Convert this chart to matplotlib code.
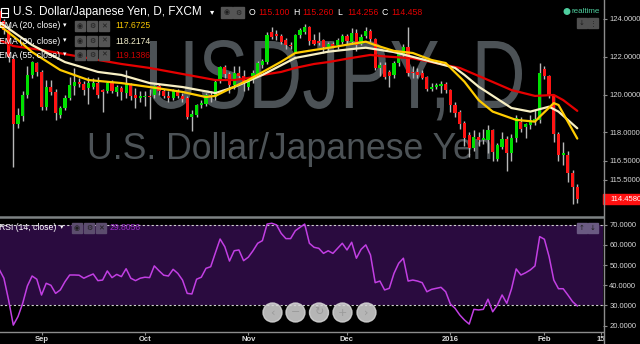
import matplotlib
matplotlib.use("Agg")
import matplotlib.pyplot as plt
import matplotlib.transforms as mtransforms
from matplotlib.patches import Rectangle, Ellipse, PathPatch
from matplotlib.lines import Line2D
from matplotlib.textpath import TextPath
from matplotlib.font_manager import FontProperties
import pandas as pd

plt.rcParams['font.family'] = ['Liberation Sans', 'DejaVu Sans']

# ---------------- data ----------------
holidays = ['2015-12-25', '2016-01-01']
dates = [d for d in pd.bdate_range('2015-08-19', '2016-02-10')
         if d.strftime('%Y-%m-%d') not in holidays]

opens = [124.4, 123.9, 123.4, 121.9, 118.45, 118.85, 119.98, 121.04, 121.65, 121.2,
         119.36, 120.42, 120.12, 118.92, 119.28, 119.84, 120.47, 120.65, 120.55, 120.33,
         120.4, 120.6, 120.25, 120.2, 120.6, 120.15, 120.33, 120.1, 120.5, 119.98,
         119.8, 119.88, 119.95, 119.98, 120.45, 120.2, 119.95, 119.82, 120.15, 119.95,
         119.8, 118.83, 118.92, 119.45, 119.49, 120.0, 119.85, 120.77, 121.48, 121.1,
         120.5, 121.13, 121.0, 120.42, 120.77, 121.07, 121.57, 121.74, 123.3, 123.2,
         123.12, 122.9, 122.65, 122.27, 123.15, 123.33, 123.6, 122.9, 122.85, 122.9,
         122.5, 122.7, 122.6, 122.8, 123.12, 122.8, 123.25, 122.7, 123.12, 123.37,
         122.94, 121.42, 121.57, 121.2, 121.04, 121.65, 122.13, 122.53, 121.17, 121.2,
         121.13, 120.95, 120.3, 120.42, 120.47, 120.55, 120.24, 119.45, 119.1, 118.48,
         117.86, 117.16, 117.74, 117.6, 117.6, 118.13, 116.58, 117.24, 117.63, 116.9,
         117.69, 118.57, 118.3, 118.4, 118.6, 118.66, 121.34, 120.98, 119.9, 117.9,
         116.8, 116.8, 115.84, 115.1]
highs = [124.6, 124.0, 123.7, 122.1, 119.3, 120.2, 121.5, 121.8, 121.75, 121.3,
         120.77, 120.77, 120.3, 119.4, 120.0, 120.95, 121.4, 120.9, 120.7, 120.95,
         120.9, 120.95, 120.3, 120.7, 120.75, 120.5, 120.45, 121.3, 120.6, 120.33,
         120.2, 120.2, 120.3, 120.5, 120.55, 120.3, 120.2, 120.3, 120.3, 120.1,
         119.9, 119.2, 119.5, 119.7, 120.1, 120.2, 120.8, 121.5, 121.55, 121.2,
         121.5, 121.5, 121.3, 120.9, 121.3, 121.8, 121.9, 123.3, 123.6, 123.4,
         123.2, 123.0, 122.8, 123.2, 123.5, 123.75, 123.65, 123.2, 123.3, 122.95,
         122.8, 122.8, 123.0, 123.2, 123.2, 123.5, 123.45, 123.2, 123.6, 123.45,
         123.0, 121.7, 121.7, 121.3, 121.8, 122.3, 122.7, 123.56, 121.5, 121.4,
         121.3, 121.0, 120.6, 120.6, 120.7, 120.65, 120.3, 119.6, 119.2, 118.6,
         118.0, 118.13, 118.0, 118.2, 118.4, 118.2, 117.45, 118.0, 117.8, 117.9,
         118.9, 118.8, 118.5, 118.9, 119.2, 121.69, 121.5, 121.05, 120.0, 118.0,
         117.5, 117.0, 116.0, 115.26]
lows = [123.7, 123.2, 121.7, 116.15, 118.25, 118.6, 119.8, 120.9, 121.0, 119.2,
        119.2, 120.0, 118.66, 118.75, 119.2, 119.7, 120.0, 120.4, 120.0, 119.49,
        120.3, 119.8, 119.1, 120.1, 120.1, 119.9, 119.7, 119.8, 119.7, 119.27,
        119.6, 119.4, 118.7, 119.8, 120.0, 119.8, 119.6, 119.7, 119.8, 119.6,
        118.7, 118.1, 118.8, 119.3, 119.4, 119.6, 119.7, 120.6, 120.9, 120.1,
        120.3, 120.8, 120.2, 120.25, 120.6, 121.0, 121.4, 121.6, 122.95, 122.9,
        122.7, 122.4, 122.4, 122.2, 123.0, 123.2, 122.6, 122.6, 122.6, 122.2,
        122.3, 122.5, 122.4, 122.7, 122.7, 122.7, 122.3, 122.6, 123.0, 122.8,
        121.3, 121.0, 120.8, 120.42, 120.9, 121.5, 122.0, 121.0, 120.9, 120.9,
        120.8, 120.2, 120.2, 120.3, 120.1, 120.1, 119.1, 118.8, 118.2, 117.3,
        116.7, 117.0, 117.3, 117.4, 116.9, 116.5, 116.5, 117.1, 115.97, 116.5,
        117.5, 118.0, 117.7, 118.2, 118.4, 118.5, 120.8, 119.8, 117.5, 116.5,
        116.3, 115.4, 114.2, 114.256]
closes = [123.9, 123.4, 122.0, 118.43, 118.92, 119.98, 121.04, 121.7, 121.2, 119.36,
          120.42, 120.12, 119.01, 119.31, 119.84, 120.51, 120.65, 120.58, 120.24, 120.6,
          120.6, 119.98, 120.15, 120.6, 120.2, 120.42, 120.12, 120.55, 119.9, 119.8,
          119.9, 119.95, 119.85, 120.45, 120.2, 119.95, 119.82, 120.2, 119.95, 119.75,
          118.83, 118.96, 119.45, 119.55, 119.98, 119.85, 120.68, 121.48, 121.1, 120.5,
          121.13, 121.0, 120.6, 120.77, 121.13, 121.65, 121.78, 123.15, 123.06, 123.08,
          122.8, 122.6, 122.55, 123.15, 123.42, 123.6, 122.84, 122.7, 122.75, 122.5,
          122.7, 122.58, 122.9, 123.12, 122.84, 123.25, 122.6, 123.06, 123.37, 122.94,
          121.42, 121.57, 120.95, 121.0, 121.65, 122.13, 122.53, 121.13, 121.13, 121.05,
          120.9, 120.3, 120.42, 120.5, 120.55, 120.24, 119.45, 119.01, 118.44, 117.69,
          117.16, 117.77, 117.6, 117.7, 118.13, 116.98, 117.33, 117.63, 116.9, 117.69,
          118.75, 118.2, 118.44, 118.66, 118.7, 121.13, 120.98, 119.9, 117.9, 116.8,
          116.9, 115.84, 115.13, 114.458]

rsi = [47.9, 43.5, 32.7,
       20.3, 24.5, 31.1, 39.7, 44.6, 43.0, 35.2, 41.0, 40.0, 36.0,
       37.7, 41.8, 45.1, 45.1, 45.0, 43.5, 44.6, 45.6, 42.3, 42.6,
       47.1, 43.8, 45.4, 44.3, 48.2, 43.5, 42.3, 43.5, 44.0, 43.8,
       49.6, 47.2, 45.0, 44.6, 47.9, 45.9, 42.6, 36.0, 35.7, 43.0,
       44.0, 48.4, 49.2, 56.1, 62.9, 59.1, 52.0, 57.1, 57.5, 52.2,
       53.9, 57.1, 60.8, 62.1, 70.3, 70.7, 69.9, 65.7, 63.1, 63.1,
       67.0, 68.7, 70.3, 60.8, 58.8, 58.3, 55.8, 57.1, 55.8, 58.3,
       60.8, 57.5, 61.3, 53.4, 57.8, 60.0, 55.0, 41.3, 42.1, 37.7,
       38.5, 45.9, 50.9, 53.4, 42.1, 42.6, 42.1, 41.3, 36.8, 38.0,
       38.5, 39.0, 36.8, 30.7, 28.6, 25.3, 22.8, 20.8, 28.1, 27.8,
       28.1, 33.1, 26.9, 30.2, 35.2, 31.1, 38.2, 48.1, 45.1, 46.2,
       47.6, 49.6, 64.1, 62.8, 54.2, 42.6, 38.3, 38.3, 35.2, 31.9, 29.8056]

# EMA lines at bar positions
ema20_idx = [0, 4, 7, 13, 19, 26, 32, 39, 44, 46, 49, 53, 60, 63, 67, 70, 75, 78, 80, 84,
             88, 92, 95, 99, 102, 105, 110, 114, 115, 118, 119, 123]
ema20 = [123.68, 122.89, 122.25, 121.3, 120.77, 120.61, 120.4, 120.14, 119.87, 119.93,
         120.3, 120.77, 121.74, 122.2, 122.36, 122.47, 122.68, 122.8, 122.62, 122.31,
         122.2, 121.83, 121.67, 120.68, 119.71, 119.1, 118.66, 118.57, 118.83, 119.55,
         119.45, 117.6725]
ema30_idx = [0, 7, 14, 21, 26, 32, 39, 46, 50, 56, 63, 70, 75, 78, 84, 92, 97, 99, 102,
             109, 113, 117, 119, 123]
ema30 = [123.84, 122.62, 121.72, 121.2, 121.04, 120.61, 120.4, 120.08, 120.4, 121.04,
         121.94, 122.27, 122.41, 122.48, 122.25, 121.74, 121.41, 121.04, 120.42, 119.29,
         119.1, 119.36, 119.1, 118.2174]
ema55_idx = [0, 3, 9, 20, 26, 32, 39, 46, 50, 53, 56, 60, 63, 67, 70, 75, 79, 82, 88, 92,
             98, 105, 109, 114, 118, 120, 123]
ema55 = [122.89, 122.57, 122.36, 121.88, 121.62, 121.41, 121.09, 120.77, 120.77, 120.88,
         121.04, 121.2, 121.41, 121.62, 121.72, 121.94, 122.1, 122.02, 121.92, 121.72,
         121.41, 120.67, 120.24, 119.93, 119.98, 119.71, 119.1386]

tick_dates = ['2015-09-01', '2015-10-01', '2015-11-02', '2015-12-01', '2016-01-04',
              '2016-02-01', '2016-02-15']
tick_labels = ['Sep', 'Oct', 'Nov', 'Dec', '2016', 'Feb', '15']
price_ticks = [124.0, 122.0, 120.0, 118.0, 116.5, 115.5]
rsi_ticks = [70, 60, 50, 40, 30, 20]
title = 'U.S. Dollar/Japanese Yen, D, FXCM'
watermark_1 = 'USDJPY, D'
watermark_2 = 'U.S. Dollar/Japanese Yen'

# ---------------- figure ----------------
W, H = 640.0, 344.0
fig = plt.figure(figsize=(6.4, 3.44), dpi=100, facecolor='black')


def fx(px):
    return px / W


def fy(py):
    return 1.0 - py / H


n = len(closes)
xs = list(range(n))
XL = (0.17, 128.47)

# ---- main price panel ----
ax = fig.add_axes([0, fy(216.5), fx(603), 216.5 / H])
ax.set_facecolor('black')
ax.set_xlim(*XL)
ax.set_ylim(113.55, 125.005)
ax.set_autoscale_on(False)

# watermark line 1 (taller, narrow lettering) as a scaled text path
wm_prop = FontProperties(family='Liberation Sans')
tp = TextPath((0, 0), watermark_1, size=100, prop=wm_prop)
bb = tp.get_extents()
cap = TextPath((0, 0), 'U', size=100, prop=wm_prop).get_extents().y1
sx = (522 - 150) / bb.width
sy = (108 - 41) / cap
wm_tr = mtransforms.Affine2D().translate(-bb.x0, 0).scale(sx, sy).translate(150, H - 108)
ax.add_artist(PathPatch(tp, transform=wm_tr, facecolor='#4c5256', edgecolor='none',
                        zorder=1))
ax.text(fx(87), fy(159), watermark_2, transform=fig.transFigure, fontsize=25.7,
        color='#4c5256', ha='left', va='baseline', zorder=1)

ax.vlines(xs, lows, highs, color='#b8b8b8', lw=1.0, zorder=2)
bottoms = [min(o, c) for o, c in zip(opens, closes)]
heights = [max(abs(c - o), 0.035) for o, c in zip(opens, closes)]
colors = ['#00e000' if c >= o else '#ff1414' for o, c in zip(opens, closes)]
ax.bar(xs, heights, bottom=bottoms, width=0.68, color=colors, linewidth=0, zorder=3)

ax.plot(ema55_idx, ema55, color='#e60000', lw=1.6, zorder=4, solid_capstyle='round')
ax.plot(ema30_idx, ema30, color='#f8f0c4', lw=1.6, zorder=4, solid_capstyle='round')
ax.plot(ema20_idx, ema20, color='#ffcc00', lw=1.6, zorder=4, solid_capstyle='round')

ax.yaxis.tick_right()
ax.set_yticks(price_ticks)
ax.set_yticklabels([f'{v:.4f}' for v in price_ticks])
ax.tick_params(axis='y', colors='#8c8c8c', labelcolor='#d6d6d6', labelsize=5.5,
               length=3, width=0.8, pad=1.5)
ax.set_xticks([])
for s in ax.spines.values():
    s.set_visible(False)

# last price marker
trans = mtransforms.blended_transform_factory(ax.transAxes, ax.transData)
ax.add_patch(Rectangle((1.0, closes[-1] - 0.27), (640 - 603) / 603, 0.54,
                       transform=trans, clip_on=False, color='#ff1010', zorder=6))
ax.text(1.0 + 7 / 603, closes[-1], f'{closes[-1]:.4f}', transform=trans,
        color='white', fontsize=5.5, va='center', ha='left', clip_on=False, zorder=7)

# ---- RSI panel ----
ax2 = fig.add_axes([0, fy(332), fx(603), (332 - 217.5) / H])
ax2.set_facecolor('black')
ax2.set_xlim(*XL)
ax2.set_ylim(16.88, 73.56)
ax2.axhspan(30, 70, color='#2a0b3f', lw=0, zorder=0)
ax2.axhline(70, color='#d0d0d0', lw=0.8, ls=(0, (2, 2)), zorder=1)
ax2.axhline(30, color='#d0d0d0', lw=0.8, ls=(0, (2, 2)), zorder=1)
ax2.plot(xs, rsi, color='#c23fe3', lw=1.1, zorder=3)

ax2.yaxis.tick_right()
ax2.set_yticks(rsi_ticks)
ax2.set_yticklabels([f'{v:.4f}' for v in rsi_ticks])
ax2.tick_params(axis='y', colors='#8c8c8c', labelcolor='#d6d6d6', labelsize=5.5,
                length=3, width=0.8, pad=1.5)

date_strs = [d.strftime('%Y-%m-%d') for d in dates]
tick_pos = []
for t in tick_dates:
    if t in date_strs:
        tick_pos.append(date_strs.index(t))
    else:
        tick_pos.append(n - 1 + (pd.Timestamp(t) - dates[-1]).days)
ax2.set_xticks(tick_pos)
ax2.set_xticklabels(tick_labels)
ax2.tick_params(axis='x', colors='#8c8c8c', labelcolor='#d8d8d8', labelsize=5.5,
                length=2, width=0.8, pad=1.2)
for lbl in ax2.get_xticklabels():
    lbl.set_fontweight('bold')
for k, s in ax2.spines.items():
    s.set_visible(k == 'bottom')
ax2.spines['bottom'].set_color('#8c8c8c')
ax2.spines['bottom'].set_linewidth(1.0)

# ---- frame lines ----
fig.add_artist(Rectangle((fx(604), 0), 1 - fx(604), fy(332.5), transform=fig.transFigure,
                         color='black', zorder=5))
fig.add_artist(Line2D([fx(603.5)] * 2, [0, 1], color='#8c8c8c', lw=1.0, zorder=6))
fig.add_artist(Line2D([0, fx(603)], [fy(216.8)] * 2, color='#7d8283', lw=1.8, zorder=6))


def box(x, y, w, h, color, glyph=None, gcolor='#1e1e1e', gsize=5):
    fig.add_artist(Rectangle((fx(x), fy(y + h)), fx(w), h / H, color=color, zorder=7))
    if glyph:
        fig.text(fx(x + w / 2), fy(y + h / 2), glyph, color=gcolor, fontsize=gsize,
                 ha='center', va='center', zorder=8, family=['DejaVu Sans'])


# ---- header ----
fig.add_artist(Rectangle((fx(0.5), fy(16.5)), fx(7), 8 / H, fill=False, ec='white',
                         lw=0.8, zorder=7))
fig.add_artist(Line2D([fx(2), fx(6.5)], [fy(12.5)] * 2, color='white', lw=0.8, zorder=7))
fig.text(fx(13), fy(12.5), title, color='white', fontsize=8.5, va='center', ha='left',
         zorder=8)
fig.text(fx(212), fy(12.5), '▾', color='white', fontsize=6, va='center', ha='center', zorder=8)
box(221, 7, 11, 11, '#555555', '◉')
box(233, 7, 11, 11, '#555555', '⚙')

ohlc_vals = [opens[-1], highs[-1], lows[-1], closes[-1]]
ohlc_x = [(249, 258), (293, 302), (337, 347), (382, 391)]
for lab, v, (lx, vx) in zip('OHLC', ohlc_vals, ohlc_x):
    fig.text(fx(lx), fy(12.5), lab, color='white', fontsize=6.3, va='center', zorder=8)
    fig.text(fx(vx), fy(12.5), f'{v:.3f}', color='#e00000', fontsize=6.3, va='center',
             zorder=8)

fig.add_artist(Ellipse((fx(567), fy(11.5)), fx(5.5), 5.5 / H, color='#4ecf9f', zorder=8))
fig.text(fx(572), fy(11.5), 'realtime', color='#4ecf9f', fontsize=5.8, va='center', zorder=8)
box(577, 18, 10, 10, '#505050', '↓', gsize=5)
box(588, 18, 10, 10, '#505050', '⋮', gsize=5)

# ---- EMA legend ----
legend_rows = [('EMA (20, close)', ema20[-1], '#f5c400', 26),
               ('EMA (30, close)', ema30[-1], '#f1ecc8', 41),
               ('EMA (55, close)', ema55[-1], '#cc0000', 55)]
for lab, v, col, yy in legend_rows:
    fig.text(fx(-1), fy(yy), lab, color='white', fontsize=6.2, va='center', ha='left', zorder=8)
    fig.text(fx(65), fy(yy), '▾', color='white', fontsize=5, va='center', ha='center', zorder=8)
    box(75, yy - 5, 10, 10, '#555555', '◉')
    box(87, yy - 5, 10, 10, '#555555', '⚙')
    box(99, yy - 5, 10, 10, '#555555', '✕')
    fig.text(fx(115), fy(yy), f'{v:.4f}', color=col, fontsize=6.2, va='center', zorder=8)

# ---- RSI legend ----
fig.text(fx(-1), fy(228), 'RSI (14, close)', color='white', fontsize=6.2, va='center',
         ha='left', zorder=8)
fig.text(fx(62), fy(228), '▾', color='white', fontsize=5, va='center', ha='center', zorder=8)
box(72, 223, 10, 10, '#5c4d6e', '◉')
box(84, 223, 10, 10, '#5c4d6e', '⚙')
box(96, 223, 10, 10, '#5c4d6e', '✕')
fig.text(fx(110), fy(228), f'{rsi[-1]:.4f}', color='#9a2fc4', fontsize=6.2, va='center',
         zorder=8)
box(577, 223, 10, 10, '#6a5a82', '↑', gsize=5)
box(588, 223, 10, 10, '#6a5a82', '↓', gsize=5)

# ---- navigation buttons ----
for cx, g in zip([272.5, 295.5, 319, 342.5, 366.5], ['‹', '−', '↻', '+', '›']):
    fig.add_artist(Ellipse((fx(cx), fy(312.5)), fx(19), 19 / H, color='#d6d6d6',
                           alpha=0.85, zorder=7))
    fig.text(fx(cx), fy(312.5), g, color='#9a9a9a', fontsize=8, ha='center', va='center',
             zorder=8, family=['DejaVu Sans'])

fig.savefig('out.png', dpi=100, facecolor='black')
